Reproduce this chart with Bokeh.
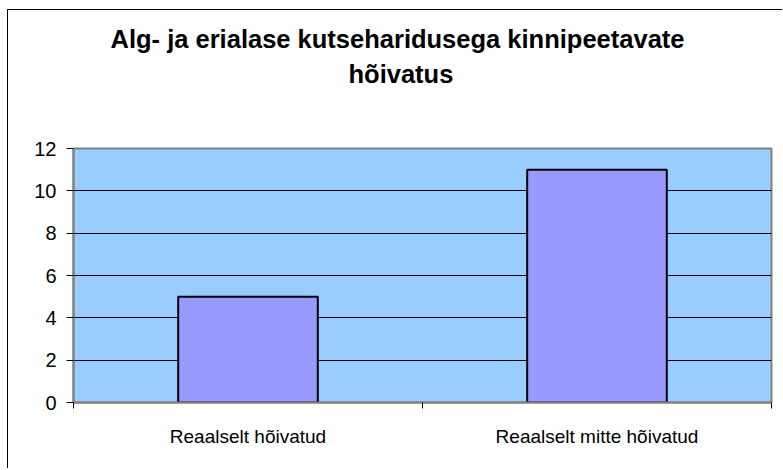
from bokeh.plotting import figure
from bokeh.models import Range1d, FixedTicker, Title
from bokeh.embed import file_html
from bokeh.resources import INLINE

categories = ["Reaalselt hõivatud", "Reaalselt mitte hõivatud"]
values = [5, 11]
y_ticks = [0, 2, 4, 6, 8, 10, 12]
title_lines = ["Alg- ja erialase kutseharidusega kinnipeetavate", "hõivatus"]

FONT = "Liberation Sans"
xs = [i + 0.5 for i in range(len(categories))]
bounds = list(range(len(categories) + 1))

p = figure(width=775, height=459, output_backend="svg", toolbar_location=None,
           x_range=Range1d(0, len(categories)), y_range=Range1d(0, max(y_ticks)),
           min_border_left=65, min_border_right=12, min_border_top=138,
           min_border_bottom=67)

p.styles = {"margin-left": "7px", "margin-top": "9px",
            "border-left": "1px solid black", "border-top": "1px solid black"}

p.background_fill_color = "#99CCFF"
p.border_fill_color = "white"
p.outline_line_color = "#808080"
p.outline_line_width = 2

p.vbar(x=xs, top=values, width=0.4, fill_color="#9999FF",
       line_color="black", line_width=2)

# grid
p.xgrid.visible = False
p.ygrid.ticker = FixedTicker(ticks=y_ticks)
p.ygrid.grid_line_color = "black"
p.ygrid.grid_line_width = 1

# y axis
p.yaxis.ticker = FixedTicker(ticks=y_ticks)
p.yaxis.axis_line_color = "#808080"
p.yaxis.axis_line_width = 2
p.yaxis.major_tick_line_color = "black"
p.yaxis.major_tick_in = 0
p.yaxis.major_tick_out = 7
p.yaxis.minor_tick_line_color = None
p.yaxis.major_label_text_font = FONT
p.yaxis.major_label_text_font_size = "20px"
p.yaxis.major_label_text_color = "black"
p.yaxis.major_label_standoff = 10

# x axis
p.xaxis.ticker = FixedTicker(ticks=xs, minor_ticks=bounds)
p.xaxis.major_label_overrides = {x: c for x, c in zip(xs, categories)}
p.xaxis.axis_line_color = "#808080"
p.xaxis.axis_line_width = 2
p.xaxis.major_tick_line_color = None
p.xaxis.major_tick_in = 0
p.xaxis.major_tick_out = 0
p.xaxis.minor_tick_line_color = "black"
p.xaxis.minor_tick_in = 0
p.xaxis.minor_tick_out = 6
p.xaxis.major_label_text_font = FONT
p.xaxis.major_label_text_font_size = "19px"
p.xaxis.major_label_text_color = "black"
p.xaxis.major_label_standoff = 17

# titles: first added sits next to the frame (spacer), later ones stack outward
p.add_layout(Title(text=" ", text_font=FONT, text_font_size="25px",
                   standoff=29), "above")
p.add_layout(Title(text=title_lines[1], align="left", offset=275,
                   text_font=FONT, text_font_size="25.5px",
                   text_font_style="bold", text_color="black", standoff=4),
             "above")
p.add_layout(Title(text=title_lines[0], align="left", offset=37,
                   text_font=FONT, text_font_size="25.5px",
                   text_font_style="bold", text_color="black", standoff=5),
             "above")

open("out.html", "w").write(file_html(p, INLINE))
